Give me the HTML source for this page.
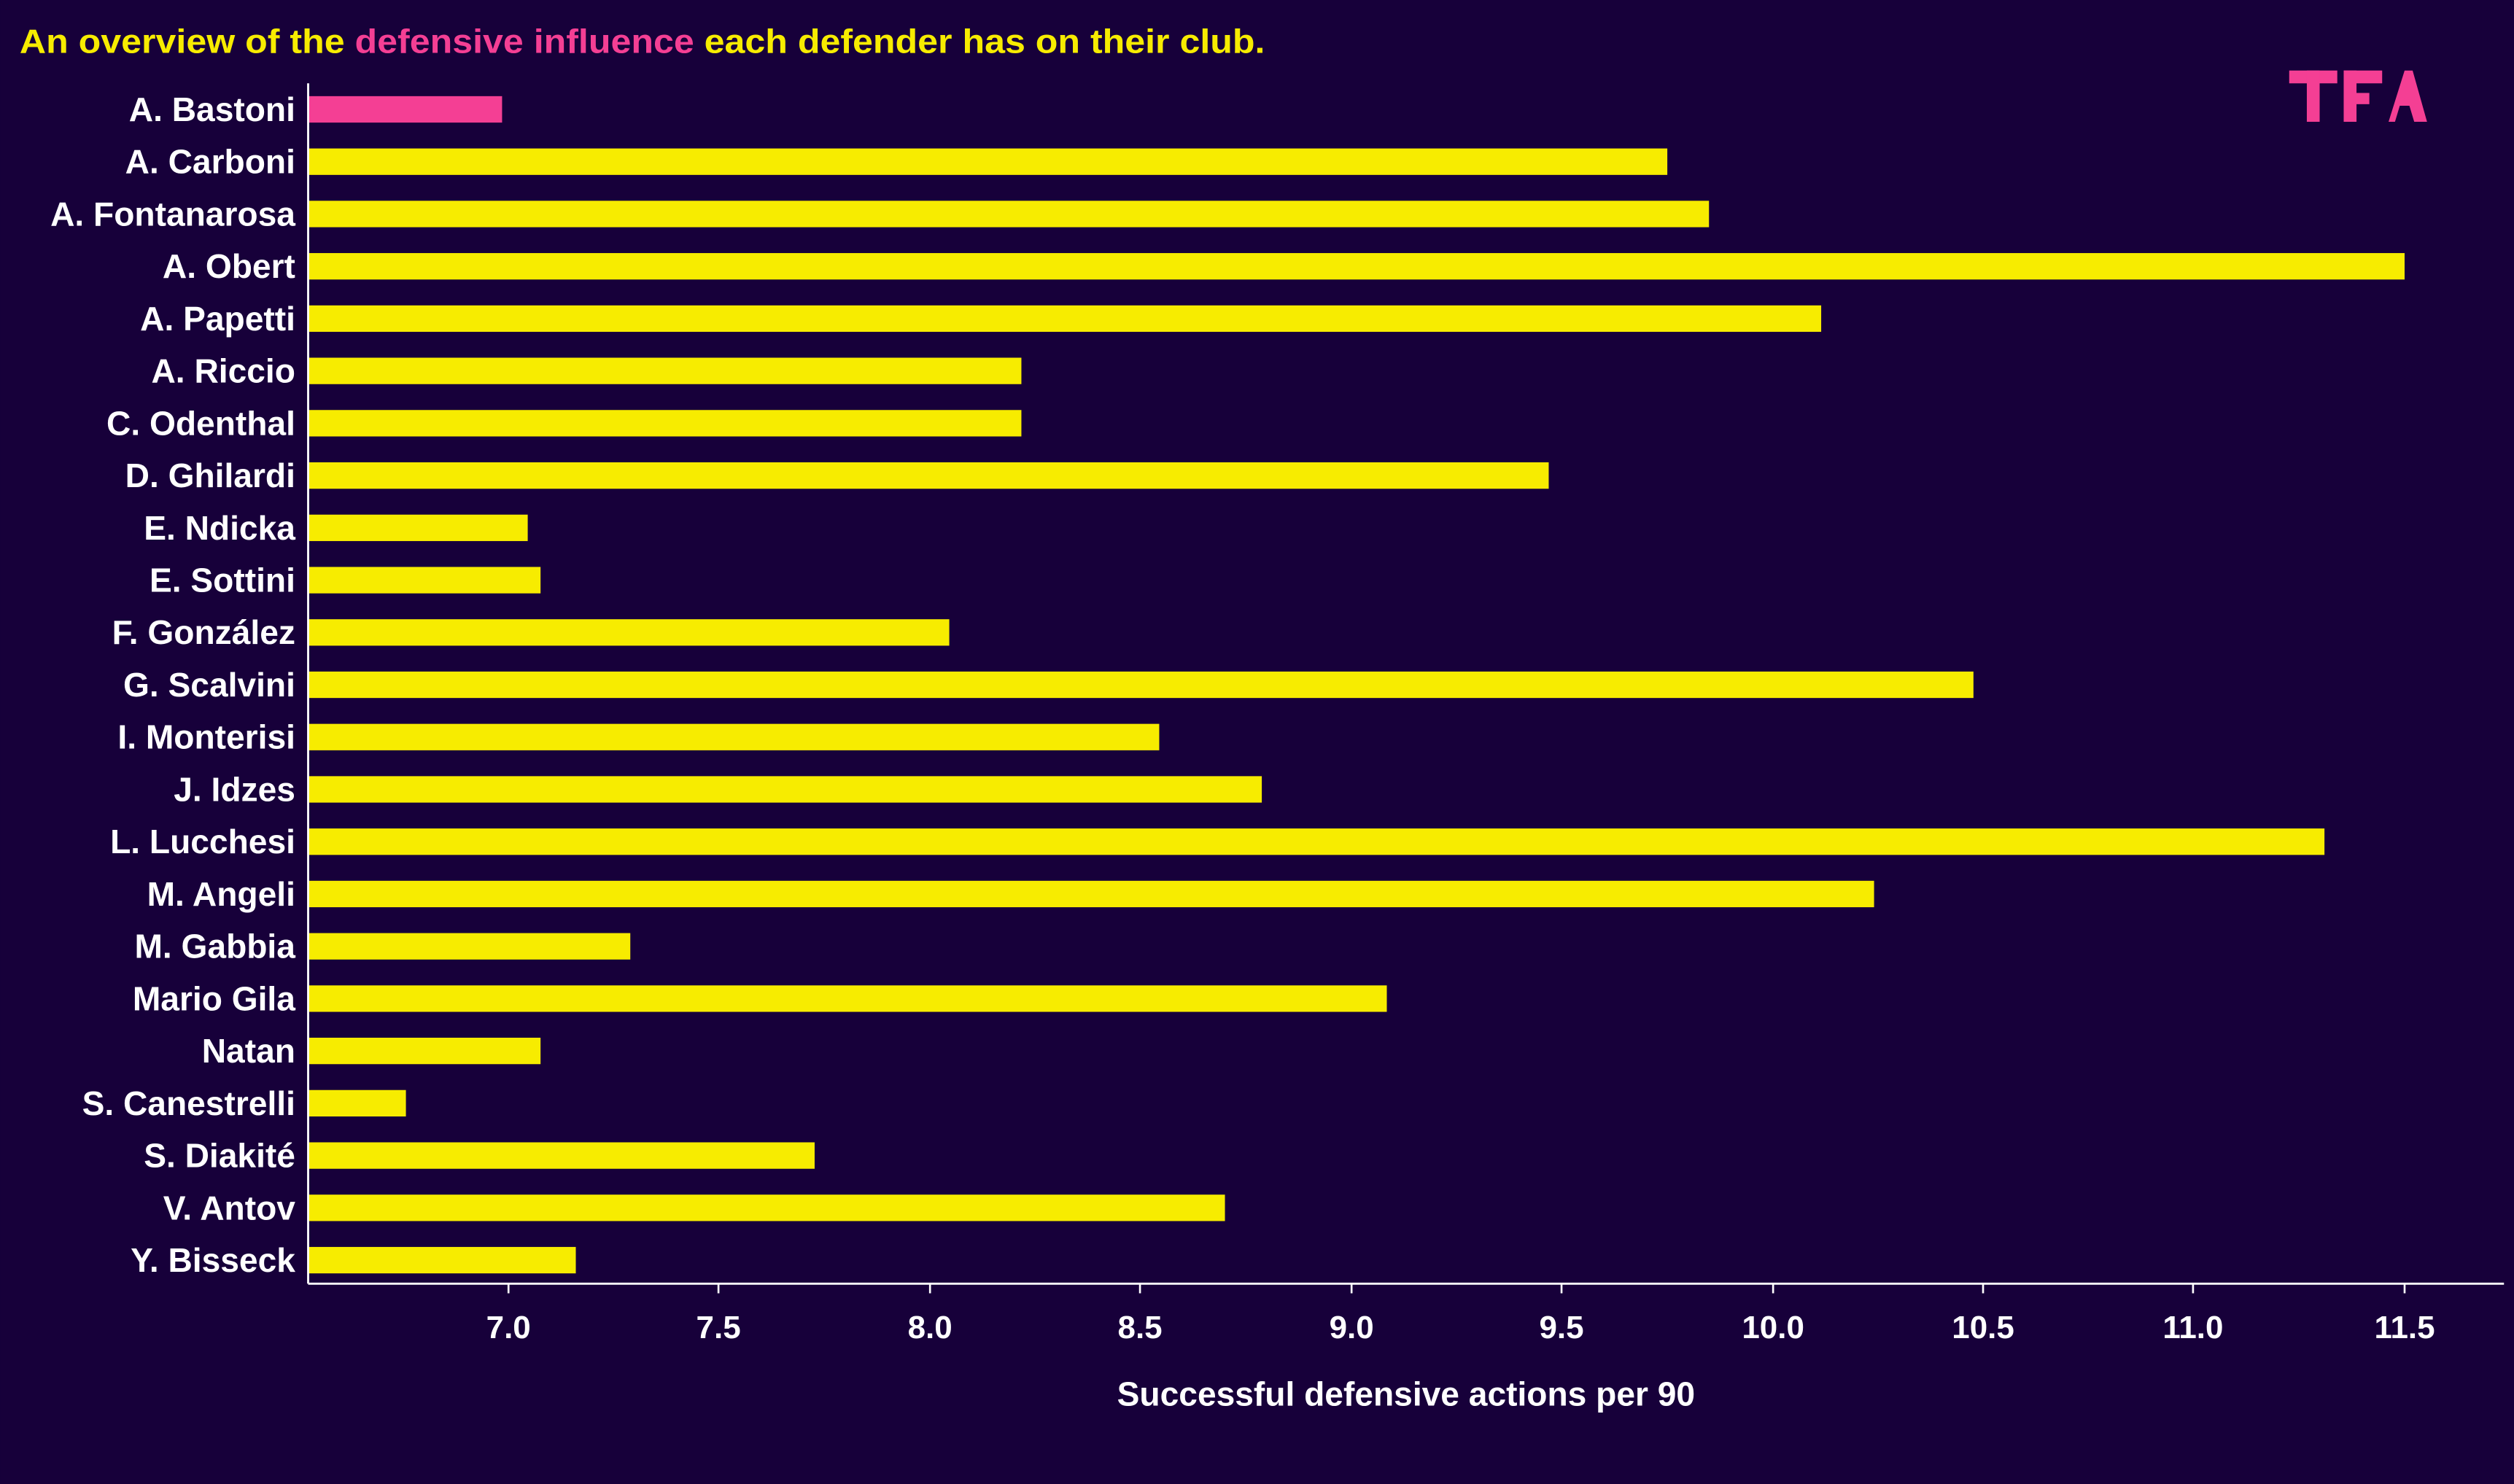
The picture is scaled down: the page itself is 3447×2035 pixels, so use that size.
<!DOCTYPE html>
<html><head><meta charset="utf-8"><style>html,body{margin:0;padding:0;background:#17003a;}svg{display:block}</style></head><body>
<svg width="3447" height="2035" viewBox="0 0 1568 926" xmlns="http://www.w3.org/2000/svg" font-family="'Liberation Sans', 'DejaVu Sans', sans-serif" font-weight="bold">
<rect width="1568" height="926" fill="#17003a"/>
<text x="12" y="33" font-size="21" fill="#f7ec00" textLength="777" lengthAdjust="spacingAndGlyphs">An overview of the <tspan fill="#f43f94">defensive influence</tspan> each defender has on their club.</text>
<g fill="#f43f94">
<rect x="1428" y="44" width="30" height="8"/><rect x="1439" y="44" width="8" height="32"/>
<rect x="1462" y="44" width="24" height="8"/><rect x="1462" y="44" width="8" height="32"/><rect x="1462" y="58" width="16" height="7"/>
<polygon points="1490,76 1500,44 1505,44 1514,76 1506,76 1503,66 1497,66 1494,76"/>
</g>
<g id="bars"></g>
<line x1="192" y1="52" x2="192" y2="801" stroke="#fff" stroke-width="1.3"/>
<line x1="192" y1="801" x2="1562" y2="801" stroke="#fff" stroke-width="1.3"/>
<g stroke="#fff" stroke-width="1.2">
<line x1="317" y1="801" x2="317" y2="807"/><line x1="448" y1="801" x2="448" y2="807"/><line x1="580" y1="801" x2="580" y2="807"/><line x1="711" y1="801" x2="711" y2="807"/><line x1="843" y1="801" x2="843" y2="807"/><line x1="974" y1="801" x2="974" y2="807"/><line x1="1106" y1="801" x2="1106" y2="807"/><line x1="1237" y1="801" x2="1237" y2="807"/><line x1="1368" y1="801" x2="1368" y2="807"/><line x1="1500" y1="801" x2="1500" y2="807"/>
</g>
<g fill="#fff" font-size="20" text-anchor="middle">
<text x="317" y="835">7.0</text><text x="448" y="835">7.5</text><text x="580" y="835">8.0</text><text x="711" y="835">8.5</text><text x="843" y="835">9.0</text><text x="974" y="835">9.5</text><text x="1106" y="835">10.0</text><text x="1237" y="835">10.5</text><text x="1368" y="835">11.0</text><text x="1500" y="835">11.5</text>
<text x="877" y="877" font-size="21">Successful defensive actions per 90</text>
</g>
<g id="labels" fill="#fff" font-size="21" text-anchor="end"></g>
</svg>
<script>
var d=[["A. Bastoni",313],["A. Carboni",1040],["A. Fontanarosa",1066],["A. Obert",1500],["A. Papetti",1136],["A. Riccio",637],["C. Odenthal",637],["D. Ghilardi",966],["E. Ndicka",329],["E. Sottini",337],["F. González",592],["G. Scalvini",1231],["I. Monterisi",723],["J. Idzes",787],["L. Lucchesi",1450],["M. Angeli",1169],["M. Gabbia",393],["Mario Gila",865],["Natan",337],["S. Canestrelli",253],["S. Diakité",508],["V. Antov",764],["Y. Bisseck",359]];
var ns="http://www.w3.org/2000/svg",b=document.getElementById("bars"),l=document.getElementById("labels");
d.forEach(function(r,i){var y=68+i*32.64;var e=document.createElementNS(ns,"rect");e.setAttribute("x",192);e.setAttribute("y",y-8);e.setAttribute("width",r[1]-192);e.setAttribute("height",16.5);e.setAttribute("fill",i==0?"#f43f94":"#f7ec00");b.appendChild(e);
var t=document.createElementNS(ns,"text");t.setAttribute("x",184);t.setAttribute("y",y+7.5);t.textContent=r[0];l.appendChild(t);});
</script>
</body></html>
